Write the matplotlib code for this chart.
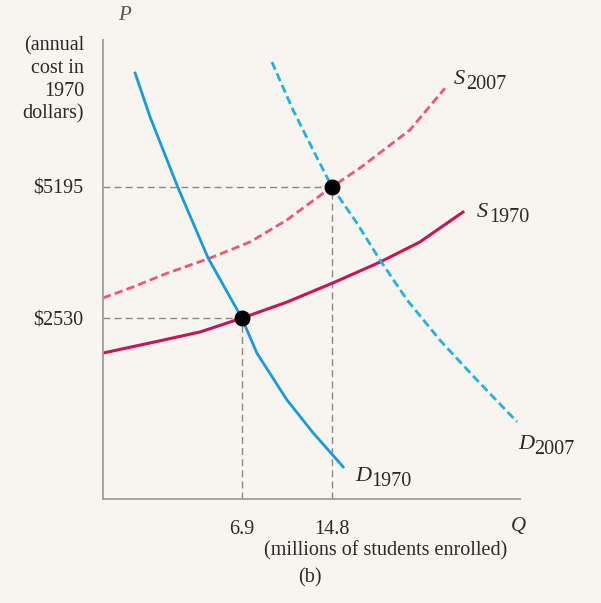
import matplotlib
matplotlib.use("Agg")
import matplotlib.pyplot as plt

# schematic units: both axes 0..100
d1970_x = [7.7, 11.3, 18.0, 25.2, 33.3, 36.9, 44.1, 50.4, 57.6]
d1970_y = [92.8, 83.2, 67.8, 52.5, 39.4, 31.8, 21.6, 14.4, 7.0]

d2007_x = [40.5, 45.6, 50.4, 54.9, 60.9, 66.4, 72.9, 80.8, 89.7, 99.3]
d2007_y = [95.2, 84.7, 76.0, 68.0, 60.1, 52.1, 43.4, 34.6, 25.9, 16.8]

s1970_x = [0.0, 11.3, 23.3, 33.3, 44.1, 55.2, 66.4, 76.0, 86.3]
s1970_y = [31.8, 34.0, 36.4, 39.4, 42.9, 47.1, 51.6, 56.0, 62.5]

s2007_x = [0.0, 7.2, 15.4, 25.7, 35.3, 44.1, 54.9, 61.6, 73.6, 82.0]
s2007_y = [43.8, 46.2, 49.2, 52.5, 56.0, 60.8, 68.0, 72.1, 80.4, 89.5]

eq_x = [33.3, 54.9]
eq_y = [39.4, 68.0]
price_labels = ["$2530", "$5195"]
qty_labels = ["6.9", "14.8"]

BG = "#f8f4ee"
INK = "#2a2a2a"
plt.rcParams["font.family"] = "Liberation Serif"

fig = plt.figure(figsize=(6.01, 6.03), dpi=100, facecolor=BG)
W, H = 601, 603
ax = fig.add_axes([103 / W, (H - 499) / H, (520 - 103) / W, (499 - 40) / H])
ax.set_facecolor(BG)
ax.set_xlim(0, 100)
ax.set_ylim(0, 100)

for side in ["top", "right"]:
    ax.spines[side].set_visible(False)
for side in ["left", "bottom"]:
    ax.spines[side].set_color("#a09c98")
    ax.spines[side].set_linewidth(1.3)

# guide lines
for x, y in zip(eq_x, eq_y):
    ax.plot([0, x], [y, y], color="#8a8a8a", lw=1.0, ls=(0, (5, 3)))
    ax.plot([x, x], [0, y], color="#8a8a8a", lw=1.0, ls=(0, (5, 3)))

ax.plot(s2007_x, s2007_y, color="#f0557d", lw=2.0, ls=(0, (3, 1.5)))
ax.plot(s1970_x, s1970_y, color="#c8155a", lw=2.2)
ax.plot(d2007_x, d2007_y, color="#22b0e6", lw=2.0, ls=(0, (3, 1.5)))
ax.plot(d1970_x, d1970_y, color="#1a9ade", lw=2.0)

ax.scatter(eq_x, eq_y, s=110, color="black", zorder=5)

ax.set_xticks(eq_x)
ax.set_xticklabels(qty_labels)
ax.set_yticks(eq_y)
ax.set_yticklabels(price_labels)
ax.tick_params(length=0, labelsize=14.5, colors=INK)
ax.tick_params(axis="x", pad=15)
ax.tick_params(axis="y", pad=14)


def curve_label(x, y, letter, sub, gap):
    ax.text(x, y, letter, fontsize=16, style="italic", color=INK,
            ha="left", va="baseline")
    ax.annotate(sub, xy=(x, y), xycoords="data", xytext=(gap, -4),
                textcoords="offset points", fontsize=14.5, color=INK,
                ha="left", va="baseline")


curve_label(84.2, 90.5, "S", "2007", 9)
curve_label(89.6, 61.5, "S", "1970", 9)
curve_label(60.4, 4.0, "D", "1970", 11.5)
curve_label(99.5, 11.0, "D", "2007", 11.5)

# axis texts
fig.text(124 / W, 1 - 15 / H, "P", fontsize=15, style="italic", color="#555555",
         ha="center", va="center")
fig.text(84 / W, 1 - 80 / H, "(annual\ncost in\n1970\ndollars)", fontsize=14.5,
         color=INK, ha="right", va="center", linespacing=1.25)
fig.text(518 / W, 1 - 527 / H, "Q", fontsize=15, style="italic", color=INK,
         ha="center", va="center")
fig.text(386 / W, 1 - 551 / H, "(millions of students enrolled)", fontsize=14.5,
         color=INK, ha="center", va="center")
fig.text(310 / W, 1 - 578 / H, "(b)", fontsize=14.5, color=INK,
         ha="center", va="center")

fig.savefig("out.png", dpi=100, facecolor=BG)
